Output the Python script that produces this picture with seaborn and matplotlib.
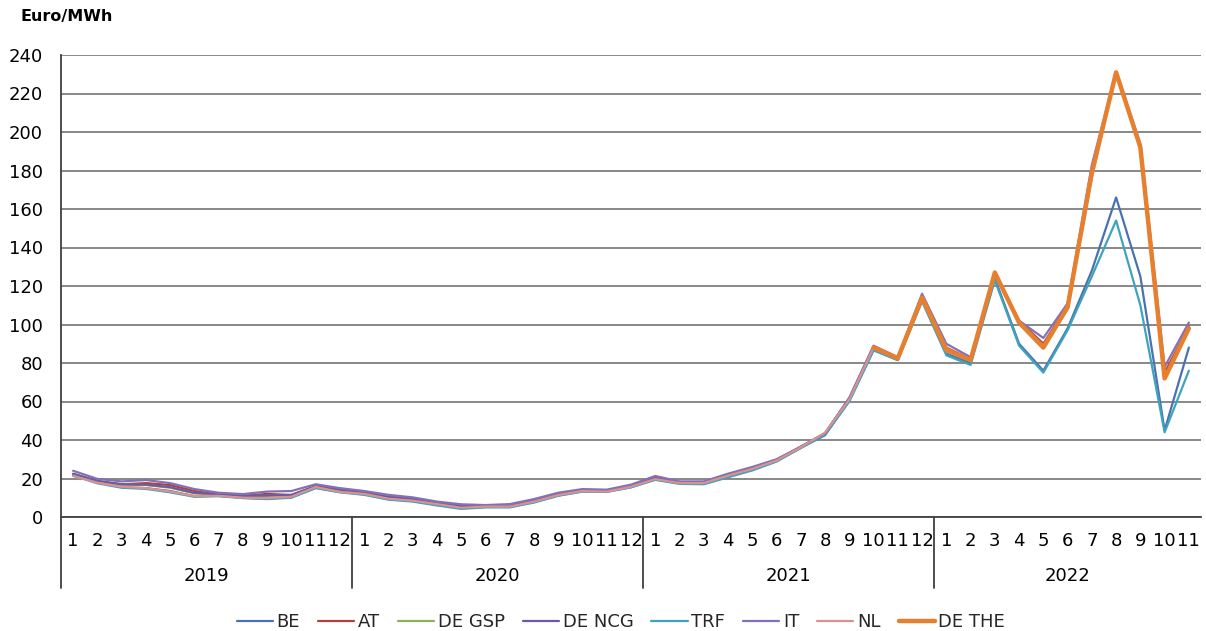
import matplotlib
matplotlib.use("Agg")
import matplotlib.pyplot as plt
import seaborn as sns
import numpy as np
import pandas as pd

# ---------------- data ----------------
years = ["2019", "2020", "2021", "2022"]
months_per_year = [12, 12, 12, 11]
month_labels = [str(m) for n in months_per_year for m in range(1, n + 1)]

series_names = ["BE", "AT", "DE GSP", "DE NCG", "TRF", "IT", "NL", "DE THE"]

BE = [22.0, 18.0, 15.5, 15.0, 13.5, 10.8, 11.0, 10.0, 9.5, 10.3, 15.2, 13.0,
      11.8, 9.3, 8.3, 6.3, 4.5, 5.2, 5.2, 7.8, 11.2, 13.3, 13.2, 15.5,
      19.5, 17.5, 17.3, 21.0, 24.5, 29.0, 36.0, 42.5, 60.5, 87.0, 81.5, 113.0,
      85.0, 80.0, 124.0, 90.0, 76.0, 98.0, 128.0, 166.0, 125.0, 45.0, 88.0]
AT = [22.0, 18.5, 17.0, 17.6, 16.6, 13.5, 11.8, 11.0, 12.0, 11.4, 16.0, 14.0,
      12.8, 10.5, 9.5, 7.5, 5.8, 5.9, 6.2, 8.8, 12.0, 14.0, 13.7, 16.2,
      20.5, 18.0, 18.0, 22.0, 25.5, 29.6, 36.5, 43.5, 61.5, 88.5, 82.5, 115.0,
      88.0, 82.0, 127.0, 102.0, 90.0, 110.0, 180.0, 231.0, 193.0, 75.0, 99.0]
DE_GSP = [22.3, 18.6, 16.8, 16.6, 15.2, 12.3, 11.6, 10.8, 11.0, 11.3, 15.8, 14.0,
          12.6, 10.2, 9.1, 7.0, 5.3, 5.6, 5.8, 8.4, 11.8, 13.8, 13.6, 16.1,
          20.3, 17.9, 17.9, 21.7, 25.2, 29.4, 36.3, 43.3, 61.3, None, None, None,
          None, None, None, None, None, None, None, None, None, None, None]
DE_NCG = [22.5, 18.8, 17.0, 16.8, 15.5, 12.5, 11.8, 11.0, 11.2, 11.5, 16.0, 14.2,
          12.8, 10.4, 9.3, 7.2, 5.5, 5.8, 6.0, 8.6, 12.0, 14.0, 13.8, 16.3,
          20.5, 18.0, 18.0, 21.8, 25.3, 29.5, 36.4, 43.4, 61.5, None, None, None,
          None, None, None, None, None, None, None, None, None, None, None]
TRF = [21.5, 17.5, 15.2, 14.6, 12.8, 10.5, 10.8, 9.8, 9.3, 10.0, 15.0, 12.8,
       11.5, 9.0, 8.0, 6.0, 4.2, 5.0, 5.0, 7.5, 11.0, 13.2, 13.0, 15.4,
       19.3, 17.2, 17.0, 20.6, 24.2, 28.8, 35.8, 42.8, 60.0, 86.5, 81.5, 112.0,
       84.0, 79.0, 123.0, 89.0, 75.0, 97.0, 125.0, 154.0, 110.0, 44.0, 76.0]
IT = [24.0, 19.8, 18.5, 19.2, 17.6, 14.5, 12.6, 11.9, 13.2, 13.5, 17.0, 15.0,
      13.5, 11.5, 10.2, 8.0, 6.6, 6.2, 6.7, 9.3, 12.6, 14.5, 14.2, 16.8,
      21.3, 18.5, 18.5, 22.5, 26.0, 30.0, 36.5, 43.5, 62.0, 89.0, 83.0, 116.0,
      90.0, 83.0, 127.0, 102.0, 93.0, 111.0, 183.0, 231.0, 194.0, 78.0, 101.0]
NL = [21.3, 17.8, 15.7, 15.0, 13.2, 10.9, 11.0, 10.0, 9.8, 10.5, 15.6, 13.0,
      12.0, 9.5, 8.5, 6.7, 4.8, 5.4, 5.4, 8.0, 11.4, 13.5, 13.2, 15.7,
      19.7, 17.6, 17.6, 21.5, 25.0, 29.3, 36.2, 43.8, 61.0, 88.0, 82.0, 114.0,
      86.0, 81.0, 126.0, 101.0, 89.0, 108.0, 176.0, 231.0, 192.0, 72.0, 98.0]
DE_THE = [None] * 33 + [88.0, 82.5, 114.0,
          87.0, 81.5, 127.0, 101.0, 88.0, 109.0, 179.0, 231.0, 192.0, 72.0, 98.0]

series_values = [BE, AT, DE_GSP, DE_NCG, TRF, IT, NL, DE_THE]

colors = {"BE": "#4A72B0", "AT": "#B0413E", "DE GSP": "#8DB255",
          "DE NCG": "#6E5A9E", "TRF": "#3FA3BC", "IT": "#8471B5",
          "NL": "#DC918E", "DE THE": "#E6802F"}
widths = {"DE THE": 3.2}

# ---------------- figure ----------------
sns.set_theme(style="white")
plt.rcParams["font.family"] = ["DejaVu Sans"]

W, H = 1206, 631
fig = plt.figure(figsize=(W / 100, H / 100), dpi=100)
left, right, top, bottom = 61, 1201, 55, 517
ax = fig.add_axes([left / W, (H - bottom) / H, (right - left) / W, (bottom - top) / H])

n = len(month_labels)
idx = np.arange(n)
for name, vals in zip(series_names, series_values):
    df = pd.DataFrame({"idx": idx, "value": pd.to_numeric(pd.Series(vals), errors="coerce")})
    df = df.dropna()
    sns.lineplot(data=df, x="idx", y="value", ax=ax, color=colors[name],
                 linewidth=widths.get(name, 1.6), label=name)

ax.set_xlim(-0.5, n - 0.5)
ax.set_ylim(0, 240)
ax.set_yticks(np.arange(0, 241, 20))
ax.yaxis.grid(True, color="#7f7f7f", linewidth=1.3)
ax.set_axisbelow(True)
ax.set_xlabel("")
ax.set_ylabel("")
for s in ["top", "right"]:
    ax.spines[s].set_visible(False)
for s in ["left", "bottom"]:
    ax.spines[s].set_color("#404040")
    ax.spines[s].set_linewidth(1.3)

ax.set_xticks(idx)
ax.set_xticklabels(month_labels)
ax.tick_params(axis="x", length=0, pad=11, labelsize=13, colors="#000000")
ax.tick_params(axis="y", length=0, pad=13, labelsize=13, colors="#000000")

# year group labels and dividers
xt = ax.get_xaxis_transform()
start = 0
bounds = [-0.5]
for y, m in zip(years, months_per_year):
    center = start + (m - 1) / 2
    ax.text(center, -(576 - bottom) / (bottom - top), y, transform=xt,
            ha="center", va="center", fontsize=13, color="#000000")
    start += m
    bounds.append(start - 0.5)
for b in bounds[:-1]:
    ax.plot([b, b], [0, -(588 - bottom) / (bottom - top)], transform=xt,
            clip_on=False, color="#404040", linewidth=1.3)

# legend
handles, labels = ax.get_legend_handles_labels()
leg = ax.legend(handles, labels, loc="center", bbox_to_anchor=(621 / W, 1 - 622 / H),
                bbox_transform=fig.transFigure, ncol=8, frameon=False, fontsize=13,
                handlelength=2.0, handletextpad=0.2, columnspacing=1.0)

fig.text(20 / W, 1 - 16 / H, "Euro/MWh", fontsize=11.5, fontweight="bold",
         ha="left", va="center", color="#000000")

fig.savefig("out.png", dpi=100)
